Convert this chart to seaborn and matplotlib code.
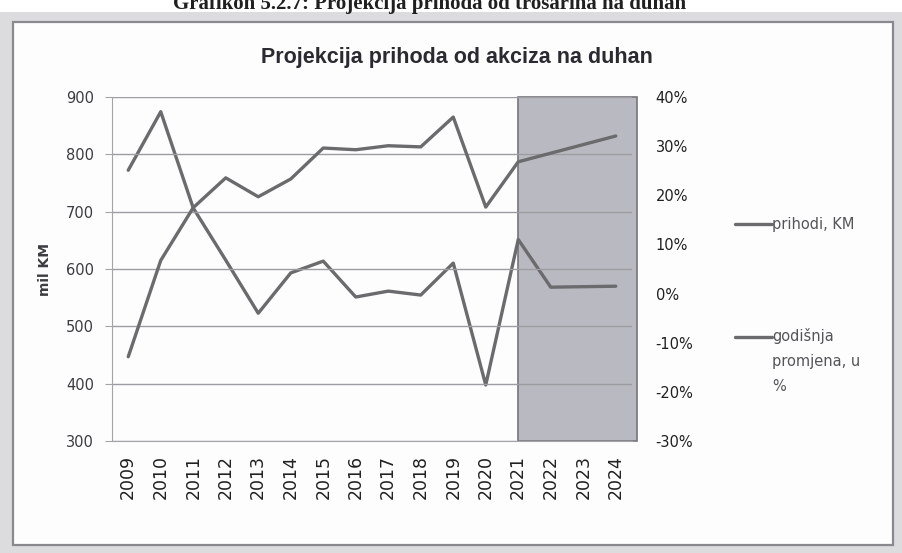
import numpy as np
import pandas as pd
import matplotlib
matplotlib.use('Agg')
import matplotlib.pyplot as plt
from matplotlib.patches import Rectangle
from matplotlib.ticker import FixedLocator, FuncFormatter
import seaborn as sns

# data
years = [2009, 2010, 2011, 2012, 2013, 2014, 2015, 2016,
         2017, 2018, 2019, 2020, 2021, 2022, 2023, 2024]
prihodi = [447, 615, 707, 759, 726, 757, 811, 808,
           815, 813, 865, 708, 787, 802, 817, 832]          # mil KM
promjena = [25.1, 37.0, 17.4, 6.8, -4.0, 4.2, 6.6, -0.7,
            0.5, -0.3, 6.2, -18.6, 11.0, 1.3, 1.4, 1.5]     # %
projection_start = 2021

df = pd.DataFrame({'godina': years, 'prihodi': prihodi, 'promjena': promjena})

sns.set_style('white')
plt.rcParams['font.family'] = ['DejaVu Sans']

line_col = '#6b6b6e'
text_col = '#3c3c40'

fig = plt.figure(figsize=(9.02, 5.53), dpi=100, facecolor='#dcdcdf')
W, H = 902, 553

# page background pieces: white strip on top, chart frame
fig.add_artist(Rectangle((0, 1 - 12 / H), 1, 12 / H, transform=fig.transFigure,
                         facecolor='white', edgecolor='none', zorder=0))
fig.add_artist(Rectangle((13 / W, 1 - 545 / H), 880 / W, 523 / H,
                         transform=fig.transFigure, facecolor='#fdfdfe',
                         edgecolor='#8a8a8e', linewidth=1.6, zorder=0))

# heading of the page, cut by the scan edge as in the source
fig.text(430 / W, 1 - 9 / H, 'Grafikon 5.2.7: Projekcija prihoda od trošarina na duhan',
         ha='center', va='baseline', fontsize=15, fontweight='bold',
         family='Liberation Serif', color='#202020')

ax = fig.add_axes([112 / W, 1 - 441 / H, 520 / W, 344 / H])
ax.set_facecolor('none')
ax2 = ax.twinx()

# projection period shading
ax2.axvspan(projection_start, years[-1] + 0.65, ymin=0, ymax=1,
            facecolor='#b9b9c1', edgecolor='#76767a', linewidth=1.2, zorder=0,
            clip_on=False)

sns.lineplot(data=df, x='godina', y='prihodi', ax=ax, color=line_col,
             linewidth=2.4, label='prihodi, KM', legend=False, zorder=3)
sns.lineplot(data=df, x='godina', y='promjena', ax=ax2, color=line_col,
             linewidth=2.4, label='godišnja\npromjena, u\n%', legend=False, zorder=3)

ax.set_zorder(ax2.get_zorder() + 1)

ax.set_xlim(years[0] - 0.5, years[-1] + 0.5)
ax.set_ylim(300, 900)
ax.set_yticks(np.arange(300, 901, 100))
ax2.set_ylim(-30, 40)
ax2.set_yticks(np.arange(-30, 41, 10))
ax2.yaxis.set_major_formatter(FuncFormatter(lambda v, p: f'{v:.0f}%'))

ax.yaxis.grid(True, color='#9c9ca2', linewidth=1.0)
ax.set_axisbelow(True)

ax.set_xticks(years)
ax.set_xticklabels([str(y) for y in years], rotation=90, fontsize=12.5,
                   color='#202020')
ax.xaxis.set_minor_locator(FixedLocator(np.arange(years[0] - 0.5, years[-1] + 1, 1)))
ax.tick_params(axis='x', which='major', length=0, pad=10)
ax.tick_params(axis='x', which='minor', length=5, color='#a3a3a8', direction='out')
ax.tick_params(axis='y', length=5, color='#a3a3a8', labelsize=10.5,
               labelcolor=text_col, pad=8)
ax2.tick_params(axis='y', length=0, labelsize=10.5, labelcolor='#202020', pad=17)

ax.set_xlabel('')
ax.set_ylabel('mil KM', fontsize=10, fontweight='bold', color=text_col, labelpad=10)
ax2.set_ylabel('')

for a in (ax, ax2):
    for s in a.spines.values():
        s.set_visible(False)
ax.spines['left'].set_visible(True)
ax.spines['left'].set_color('#a3a3a8')
ax.spines['bottom'].set_visible(True)
ax.spines['bottom'].set_color('#a3a3a8')

fig.text(457 / W, 1 - 58 / H, 'Projekcija prihoda od akciza na duhan', fontsize=15.5,
         fontweight='bold', family='Liberation Sans', color='#2a2a30',
         ha='center', va='center')

h1, l1 = ax.get_legend_handles_labels()
h2, l2 = ax2.get_legend_handles_labels()
leg = fig.legend(h1 + h2, l1 + l2, loc='upper left',
                 bbox_to_anchor=(722 / W, 1 - 204 / H),
                 frameon=False, handlelength=2.5, handletextpad=0.05,
                 labelspacing=6.6, fontsize=10.5, labelcolor='#555558')
for t in leg.get_texts():
    t.set_linespacing(1.8)
# Excel puts the marker next to the first line of a wrapped entry
second = leg.get_lines()[1]
second.set_ydata(np.asarray(second.get_ydata()) + 18)

fig.savefig('out.png', dpi=100, facecolor=fig.get_facecolor())
